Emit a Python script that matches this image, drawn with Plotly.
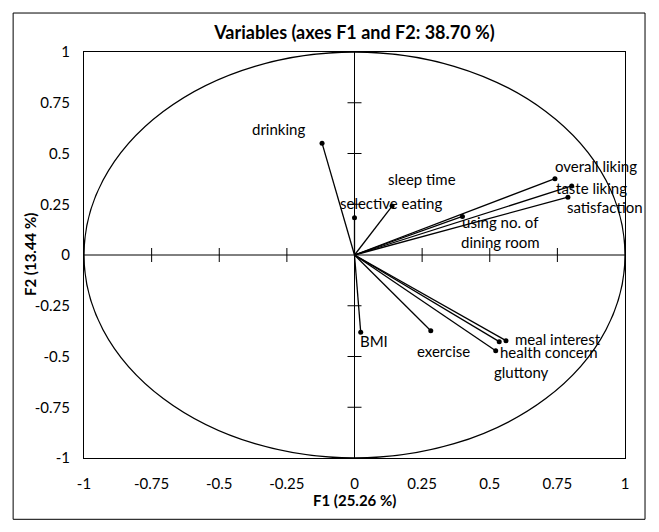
import plotly.graph_objects as go

variables = ["drinking", "selective eating", "sleep time", "overall liking", "taste liking",
             "satisfaction", "using no. of<br>dining room", "BMI", "exercise",
             "meal interest", "health concern", "gluttony"]
f1 = [-0.12, 0.00, 0.139, 0.741, 0.803, 0.789, 0.399, 0.023, 0.282, 0.560, 0.535, 0.522]
f2 = [0.551, 0.184, 0.241, 0.376, 0.340, 0.285, 0.190, -0.381, -0.373, -0.422, -0.427, -0.472]

tick_vals = [-1, -0.75, -0.5, -0.25, 0, 0.25, 0.5, 0.75, 1]
tick_text = ["-1", "-0.75", "-0.5", "-0.25", "0", "0.25", "0.5", "0.75", "1"]

title_text = "Variables (axes F1 and F2: 38.70 %)"
x_title = "F1 (25.26 %)"
y_title = "F2 (13.44 %)"

# label pixel offsets (style only)
label_dx = [-44, 36, 30, 41, 20, 37, 38, 13, 13, 52, 50, 26]
label_dy = [14, 15, 27, 13, -2, -10, -16, -9, -20, 2, -10, -21]

FONT = "Lato, Carlito, Calibri, sans-serif"
FS = 15

fig = go.Figure()

# vectors
for name, x, y in zip(variables, f1, f2):
    fig.add_trace(go.Scatter(x=[0, x], y=[0, y], mode="lines",
                             line=dict(color="black", width=1.3),
                             hoverinfo="skip", showlegend=False))
fig.add_trace(go.Scatter(x=f1, y=f2, mode="markers",
                         marker=dict(color="black", size=5),
                         text=variables, hoverinfo="text", showlegend=False))

# tick marks on zero lines
inner_ticks = [v for v in tick_vals if v not in (-1, 0, 1)]
fig.add_trace(go.Scatter(x=inner_ticks, y=[0] * len(inner_ticks), mode="markers",
                         marker=dict(symbol="line-ns-open", size=10, color="black",
                                     line=dict(color="black", width=1)),
                         hoverinfo="skip", showlegend=False))
fig.add_trace(go.Scatter(x=[0] * len(inner_ticks), y=inner_ticks, mode="markers",
                         marker=dict(symbol="line-ew-open", size=10, color="black",
                                     line=dict(color="black", width=1)),
                         hoverinfo="skip", showlegend=False))

for name, x, y, dx, dy in zip(variables, f1, f2, label_dx, label_dy):
    fig.add_annotation(x=x, y=y, text=name, showarrow=False,
                       xshift=dx, yshift=dy,
                       font=dict(family=FONT, size=FS, color="black"))

# axis titles
fig.add_annotation(x=0.5, y=0, xref="paper", yref="paper", yshift=-42,
                   xanchor="center", yanchor="middle",
                   text="<b>" + x_title + "</b>", showarrow=False,
                   font=dict(family=FONT, size=FS, color="black"))
fig.add_annotation(x=0, y=0.5, xref="paper", yref="paper", xshift=-54, textangle=-90,
                   xanchor="center", yanchor="middle",
                   text="<b>" + y_title + "</b>", showarrow=False,
                   font=dict(family=FONT, size=FS, color="black"))

shapes = [
    dict(type="circle", xref="x", yref="y", x0=-1, y0=-1, x1=1, y1=1,
         line=dict(color="black", width=1.3), layer="below"),
    dict(type="line", xref="x", yref="y", x0=-1, y0=0, x1=1, y1=0,
         line=dict(color="black", width=1), layer="below"),
    dict(type="line", xref="x", yref="y", x0=0, y0=-1, x1=0, y1=1,
         line=dict(color="black", width=1), layer="below"),
    dict(type="rect", xref="paper", yref="paper", x0=-0.131, y0=-0.151, x1=1.037, y1=1.096,
         line=dict(color="black", width=1)),
]

fig.update_layout(
    width=659, height=532,
    margin=dict(l=84, r=34, t=52, b=74),
    paper_bgcolor="white", plot_bgcolor="white",
    font=dict(family=FONT, size=FS, color="black"),
    title=dict(text="<b>" + title_text + "</b>", x=0.5, xref="paper", xanchor="center",
               y=1 - 33 / 532, yanchor="middle", font=dict(family=FONT, size=18, color="black")),
    shapes=shapes,
    showlegend=False,
)
fig.update_xaxes(range=[-1, 1], tickvals=tick_vals, ticktext=tick_text,
                 showgrid=False, zeroline=False, showline=True, mirror=True,
                 linecolor="black", linewidth=1, ticks="", ticklabelstandoff=12)
fig.update_yaxes(range=[-1, 1], tickvals=tick_vals, ticktext=tick_text,
                 showgrid=False, zeroline=False, showline=True, mirror=True,
                 linecolor="black", linewidth=1, ticks="", ticklabelstandoff=10)

fig.write_html("out.html", config={"displayModeBar": False},
               post_script="document.body.style.margin='0';")
